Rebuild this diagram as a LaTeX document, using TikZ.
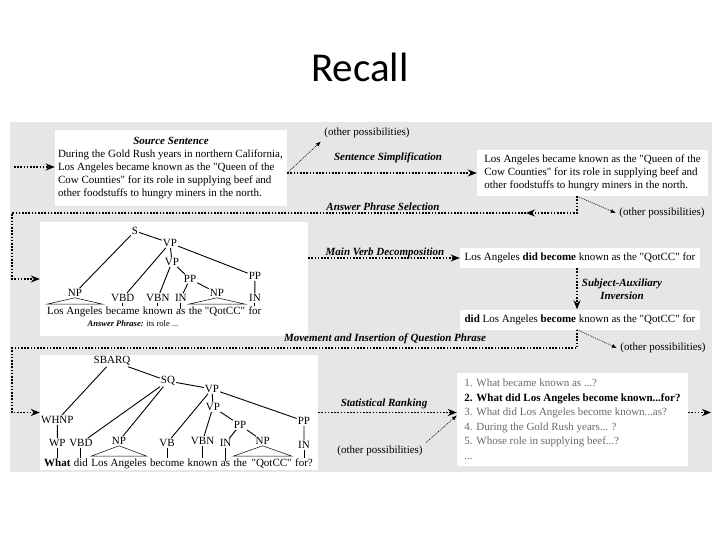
\documentclass[tikz,border=0pt]{standalone}
\usepackage{fontspec}
\setmainfont{Liberation Serif}[Ligatures=TeXOff]
\newfontfamily\titlefont{Carlito}
\usetikzlibrary{arrows.meta,positioning}
\definecolor{panelgray}{RGB}{230,230,230}
\definecolor{listgray}{RGB}{105,105,105}

\begin{document}
\begin{tikzpicture}[x=1pt, y=-1pt,
		every node/.style={font=\fontsize{11}{13}\selectfont},
		flow/.style={line width=1.6pt, dash pattern=on 1.6pt off 1.6pt, -{Stealth[length=9pt, width=7pt]}},
		alt/.style={line width=0.6pt, dash pattern=on 1pt off 1pt, -{Latex[length=5pt, width=4pt]}},
		whitebox/.style={fill=white, inner sep=0pt},
		stagelabel/.style={font=\fontsize{11}{13}\selectfont\bfseries\itshape},
		cat/.style={inner sep=1pt},
		word/.style={inner sep=0pt},
		edge/.style={line width=0.9pt},
		tri/.style={line width=0.5pt}]
	\useasboundingbox (0, 0) rectangle (720, 540);
	\node [font=\titlefont\fontsize{41}{49}\selectfont] (title) at (360, 67) {Recall};
	\fill [panelgray] (10, 122) rectangle (712, 472);

	% stage boxes
	\node [whitebox, inner xsep=3pt, minimum height=76, align=left] (src) at (171, 168)
		{\makebox[226pt]{\bfseries\itshape Source Sentence}\\
		During the Gold Rush years in northern California,\\
		Los Angeles became known as the "Queen of the\\
		Cow Counties" for its role in supplying beef and\\
		other foodstuffs to hungry miners in the north.};
	\node [whitebox, inner xsep=3pt, minimum width=231, minimum height=46, align=left] (simp) at (592.5, 173)
		{Los Angeles became known as the "Queen of the\\
		Cow Counties" for its role in supplying beef and\\
		other foodstuffs to hungry miners in the north.\hspace*{8pt}};
	\node [whitebox, minimum width=268, minimum height=114] (tree1) at (174, 279) {};
	\node [whitebox, minimum width=240, minimum height=20] (vdec) at (580, 258)
		{Los Angeles \textbf{did become} known as the "QotCC" for};
	\node [whitebox, minimum width=240, minimum height=20] (inv) at (580, 319.5)
		{\textbf{did} Los Angeles \textbf{become} known as the "QotCC" for};
	\node [whitebox, minimum width=278, minimum height=115] (tree2) at (179, 412.5) {};
	\node [whitebox, minimum width=231, minimum height=93, align=left, text=listgray,
		font=\fontsize{11}{14.5}\selectfont] (rank) at (572.5, 419.5)
		{1. What became known as ...?\\
		\textcolor{black}{\textbf{2. What did Los Angeles become known...for?}}\\
		3. What did Los Angeles become known...as?\\
		4. During the Gold Rush years... ?\\
		5. Whose role in supplying beef...?\\
		...};

	% first parse
	\node [word, anchor=base west] (a1) at (47, 314) {Los Angeles};
	\node [word, base right=3pt of a1] (a2) {became};
	\node [word, base right=3pt of a2] (a3) {known};
	\node [word, base right=3pt of a3] (a4) {as};
	\node [word, base right=3pt of a4] (a5) {the "QotCC"};
	\node [word, base right=3pt of a5] (a6) {for};
	\node [cat] (np1) at (a1 |- 0, 293) {NP};
	\node [cat] (vbd1) at (a2 |- 0, 298) {VBD};
	\node [cat] (vbn1) at (a3 |- 0, 298) {VBN};
	\node [cat] (in1) at (a4 |- 0, 298) {IN};
	\node [cat] (np2) at (a5 |- 0, 293) {NP};
	\node [cat] (in2) at (a6 |- 0, 298) {IN};
	\node [cat] (s1) at (135, 231) {S};
	\node [cat] (vp1) at (170, 243) {VP};
	\node [cat] (vp2) at (172, 262) {VP};
	\node [cat] (pp1) at (190, 279) {PP};
	\node [cat] (pp2) at (in2 |- 0, 276) {PP};
	\draw [edge] (s1) -- (np1) (s1) -- (vp1) (vp1) -- (vbd1) (vp1) -- (vp2) (vp1) -- (pp2)
		(vp2) -- (vbn1) (vp2) -- (pp1) (pp1) -- (in1) (pp1) -- (np2) (pp2) -- (in2);
	\draw [edge] (vbd1) -- (a2) (vbn1) -- (a3) (in1) -- (a4) (in2) -- (a6);
	\draw [tri] (np1.south) -- ([yshift=2pt]a1.north west) -- ([yshift=2pt]a1.north east) -- cycle;
	\draw [tri] (np2.south) -- ([yshift=2pt]a5.north west) -- ([yshift=2pt]a5.north east) -- cycle;
	\node [font=\fontsize{8.5}{10}\selectfont, anchor=base] (ans) at (133, 326) {\textbf{\textit{Answer Phrase:}} its role ...};

	% second parse
	\node [word, anchor=base west] (b1) at (44, 466) {\textbf{What}};
	\node [word, base right=3pt of b1] (b2) {did};
	\node [word, base right=3pt of b2] (b3) {Los Angeles};
	\node [word, base right=3pt of b3] (b4) {become};
	\node [word, base right=3pt of b4] (b5) {known};
	\node [word, base right=3pt of b5] (b6) {as};
	\node [word, base right=3pt of b6] (b7) {the \,"QotCC"};
	\node [word, base right=3pt of b7] (b8) {for?};
	\node [cat] (wp2) at (b1 |- 0, 443) {WP};
	\node [cat] (vbd2) at (b2 |- 0, 443) {VBD};
	\node [cat] (np3) at (b3 |- 0, 441) {NP};
	\node [cat] (vb2) at (b4 |- 0, 443) {VB};
	\node [cat] (vbn2) at (b5 |- 0, 441) {VBN};
	\node [cat] (in3) at (b6 |- 0, 443) {IN};
	\node [cat] (np4) at (b7 |- 0, 441) {NP};
	\node [cat] (in4) at (b8 |- 0, 445) {IN};
	\node [cat] (whnp) at (wp2 |- 0, 420) {WHNP};
	\node [cat] (sbarq) at (112, 361) {SBARQ};
	\node [cat] (sq) at (168, 381) {SQ};
	\node [cat] (vp3) at (212, 389) {VP};
	\node [cat] (vp4) at (213, 407) {VP};
	\node [cat] (pp3) at (240, 425) {PP};
	\node [cat] (pp4) at (in4 |- 0, 421) {PP};
	\draw [edge] (sbarq) -- (whnp) (sbarq) -- (sq) (sq) -- (vbd2) (sq) -- (np3) (sq) -- (vp3)
		(vp3) -- (vb2) (vp3) -- (vp4) (vp3) -- (pp4) (vp4) -- (vbn2) (vp4) -- (pp3)
		(pp3) -- (in3) (pp3) -- (np4) (pp4) -- (in4) (whnp) -- (wp2);
	\draw [edge] (wp2) -- (b1) (vbd2) -- (b2) (vb2) -- (b4) (vbn2) -- (b5) (in3) -- (b6) (in4) -- (b8);
	\draw [tri] (np3.south) -- ([yshift=2pt]b3.north west) -- ([yshift=2pt]b3.north east) -- cycle;
	\draw [tri] (np4.south) -- ([yshift=2pt]b7.north west) -- ([yshift=2pt]b7.north east) -- cycle;

	% stage labels
	\node [stagelabel] (lsimp) at (388, 158) {Sentence Simplification};
	\node [stagelabel] (lsel) at (383, 207) {Answer Phrase Selection};
	\node [stagelabel] (lverb) at (385, 253) {Main Verb Decomposition};
	\node [stagelabel, align=center] (linv) at (622, 289) {Subject-Auxiliary\\ Inversion};
	\node [stagelabel] (lmove) at (385, 339) {Movement and Insertion of Question Phrase};
	\node [stagelabel] (lrank) at (384, 404) {Statistical Ranking};
	\node (op1) at (367, 133) {(other possibilities)};
	\node (op2) at (662, 213) {(other possibilities)};
	\node (op3) at (663, 348) {(other possibilities)};
	\node (op4) at (380, 451) {(other possibilities)};

	% connectors
	\coordinate (vx) at (577, 0);
	\coordinate (start) at (14, 167);
	\coordinate (fork) at (src.east |- simp.west);
	\coordinate (sel) at (526, 213);
	\coordinate (lft1) at (12, 213);
	\coordinate (lft2) at (12, 348);
	\coordinate (rin) at (rank.west |- tree2.east);
	\coordinate (out) at (711, 412.5);
	\draw [flow] (start) -- (start -| src.west);
	\draw [flow] (fork) -- (simp.west);
	\draw [flow] (simp.south -| vx) |- (sel);
	\draw [flow] (sel) -- (lft1) |- (tree1.west);
	\draw [flow] (tree1.east |- vdec.west) -- (vdec.west);
	\draw [flow] (vdec.south -| vx) -- (inv.north -| vx);
	\draw [flow] (inv.south -| vx) |- (lft2) |- (tree2.west);
	\draw [flow] (tree2.east) -- (rin);
	\draw [flow] (rank.east |- out) -- (out);
	\draw [alt] (fork) -- (op1.south west);
	\draw [alt] (simp.south -| vx) -- (op2.west);
	\draw [alt] (inv.south -| vx) -- (op3.west);
	\draw [alt] (op4.north east) -- ([yshift=-3pt]rin);
\end{tikzpicture}
\end{document}
